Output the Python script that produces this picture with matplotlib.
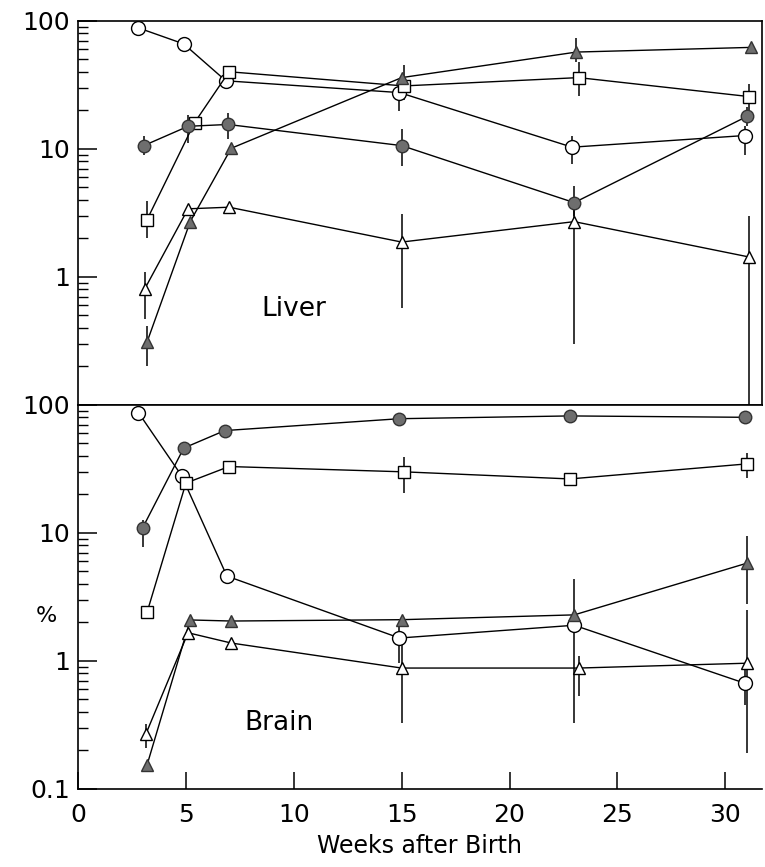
import numpy as np
import matplotlib
matplotlib.use("Agg")
import matplotlib.pyplot as plt
from matplotlib.ticker import LogLocator, NullFormatter, FixedFormatter, FixedLocator

nan = np.nan

# Liver (top panel)
liv_oc_x = [2.8, 4.9, 6.85, 14.9, 22.9, 30.9]
liv_oc_y = [88, 66, 34, 27.5, 10.3, 12.7]
liv_oc_lo = [nan, nan, nan, 19.6, 7.6, 8.9]
liv_oc_hi = [nan, nan, nan, 30, 12.5, 15]

liv_sq_x = [3.2, 5.4, 7.0, 15.1, 23.2, 31.1]
liv_sq_y = [2.8, 16, 40, 31, 36, 25.6]
liv_sq_lo = [2.0, nan, nan, 24, 26, 20]
liv_sq_hi = [3.9, nan, nan, 45, 48, 32]

liv_fc_x = [3.05, 5.1, 6.95, 15.0, 23.0, 31.0]
liv_fc_y = [10.6, 15, 15.5, 10.6, 3.8, 17.9]
liv_fc_lo = [9.0, 11.2, 11.9, 7.4, 3.0, 15]
liv_fc_hi = [12.5, 18.5, 19.2, 14.2, 5.1, 21.4]

liv_ft_x = [3.2, 5.2, 7.1, 15.0, 23.1, 31.2]
liv_ft_y = [0.31, 2.7, 10.1, 36, 57, 62]
liv_ft_lo = [0.2, nan, nan, nan, 48, nan]
liv_ft_hi = [0.41, nan, nan, nan, 74, nan]

liv_ot_x = [3.1, 5.1, 7.0, 15.0, 23.0, 31.1]
liv_ot_y = [0.81, 3.4, 3.5, 1.87, 2.7, 1.43]
liv_ot_lo = [0.47, nan, nan, 0.57, 0.3, 0.1]
liv_ot_hi = [1.1, nan, nan, 3.1, 3.3, 3.0]

# Brain (bottom panel)
brn_oc_x = [2.8, 4.8, 6.9, 14.9, 23.0, 30.9]
brn_oc_y = [87, 28, 4.6, 1.51, 1.9, 0.67]
brn_oc_lo = [nan, nan, nan, 0.97, 0.33, 0.45]
brn_oc_hi = [nan, nan, nan, 2.0, 4.4, 0.86]

brn_fc_x = [3.0, 4.9, 6.8, 14.9, 22.8, 30.9]
brn_fc_y = [11, 46, 63, 78, 82, 80]
brn_fc_lo = [7.7, nan, nan, nan, nan, nan]
brn_fc_hi = [12.6, nan, nan, nan, nan, nan]

brn_sq_x = [3.2, 5.0, 7.0, 15.1, 22.8, 31.0]
brn_sq_y = [2.4, 24.5, 33, 30, 26.4, 34.6]
brn_sq_lo = [nan, nan, nan, 20.6, nan, 27]
brn_sq_hi = [nan, nan, nan, 39, nan, 42]

brn_ft_x = [3.2, 5.2, 7.1, 15.0, 23.0, 31.0]
brn_ft_y = [0.154, 2.09, 2.05, 2.1, 2.29, 5.8]
brn_ft_lo = [nan, nan, nan, nan, nan, 2.8]
brn_ft_hi = [nan, nan, nan, nan, nan, 9.5]

brn_ot_x = [3.15, 5.1, 7.1, 15.0, 23.2, 31.0]
brn_ot_y = [0.27, 1.66, 1.38, 0.88, 0.88, 0.96]
brn_ot_lo = [0.21, nan, nan, 0.33, 0.53, 0.19]
brn_ot_hi = [0.32, nan, nan, 1.6, 1.1, 2.5]

x_ticks = [0, 5, 10, 15, 20, 25, 30]

FONT = "DejaVu Sans"
GRAY = "#6e6e6e"

styles = {
    "oc": dict(marker="o", ms=10, mfc="white", mec="black"),
    "fc": dict(marker="o", ms=9, mfc=GRAY, mec="#333333"),
    "sq": dict(marker="s", ms=8.5, mfc="white", mec="black"),
    "ft": dict(marker="^", ms=8, mfc=GRAY, mec="#333333"),
    "ot": dict(marker="^", ms=9, mfc="white", mec="black"),
}


def draw(ax, x, y, lo, hi, key):
    x = np.asarray(x, float)
    lo = np.asarray(lo, float)
    hi = np.asarray(hi, float)
    m = ~np.isnan(lo)
    ax.vlines(x[m], lo[m], hi[m], color="black", lw=1.1, zorder=2)
    ax.plot(x, y, color="black", lw=1.0, mew=1.0, zorder=3, **styles[key])


def setup(ax, labels):
    ax.set_yscale("log")
    ax.set_ylim(0.1, 100)
    ax.set_xlim(0, 31.7)
    ax.yaxis.set_major_locator(FixedLocator([0.1, 1, 10, 100]))
    ax.yaxis.set_major_formatter(FixedFormatter(labels))
    ax.yaxis.set_minor_locator(LogLocator(base=10, subs=np.arange(2, 10)))
    ax.yaxis.set_minor_formatter(NullFormatter())
    ax.tick_params(axis="y", which="major", direction="in", length=14, width=1.1,
                   labelsize=18, pad=6)
    ax.tick_params(axis="y", which="minor", direction="in", length=7, width=1.0)
    for s in ax.spines.values():
        s.set_linewidth(1.2)
    for lab in ax.get_yticklabels():
        lab.set_fontfamily(FONT)


fig = plt.figure(figsize=(7.65, 8.67), dpi=100)
ax1 = fig.add_axes([0.102, 0.533, 0.894, 0.443])
ax2 = fig.add_axes([0.102, 0.090, 0.894, 0.443])

setup(ax1, ["", "1", "10", "100"])
setup(ax2, ["0.1", "1", "10", "100"])

draw(ax1, liv_oc_x, liv_oc_y, liv_oc_lo, liv_oc_hi, "oc")
draw(ax1, liv_sq_x, liv_sq_y, liv_sq_lo, liv_sq_hi, "sq")
draw(ax1, liv_fc_x, liv_fc_y, liv_fc_lo, liv_fc_hi, "fc")
draw(ax1, liv_ft_x, liv_ft_y, liv_ft_lo, liv_ft_hi, "ft")
draw(ax1, liv_ot_x, liv_ot_y, liv_ot_lo, liv_ot_hi, "ot")

draw(ax2, brn_oc_x, brn_oc_y, brn_oc_lo, brn_oc_hi, "oc")
draw(ax2, brn_fc_x, brn_fc_y, brn_fc_lo, brn_fc_hi, "fc")
draw(ax2, brn_sq_x, brn_sq_y, brn_sq_lo, brn_sq_hi, "sq")
draw(ax2, brn_ft_x, brn_ft_y, brn_ft_lo, brn_ft_hi, "ft")
draw(ax2, brn_ot_x, brn_ot_y, brn_ot_lo, brn_ot_hi, "ot")

ax1.set_xticks([])
ax1.text(8.5, 0.56, "Liver", fontsize=19, family=FONT, va="center")

ax2.spines["right"].set_visible(False)
ax2.set_xticks(x_ticks)
ax2.set_xticklabels([str(t) for t in x_ticks], family=FONT)
ax2.tick_params(axis="x", direction="in", length=12, width=1.1, labelsize=18, pad=10)
ax2.text(7.7, 0.33, "Brain", fontsize=19, family=FONT, va="center")
ax2.set_xlabel("Weeks after Birth", fontsize=17, family=FONT, labelpad=5)
fig.text(0.06, 0.29, "%", fontsize=16, family=FONT, ha="center", va="center")

fig.savefig("out.png", dpi=100)
